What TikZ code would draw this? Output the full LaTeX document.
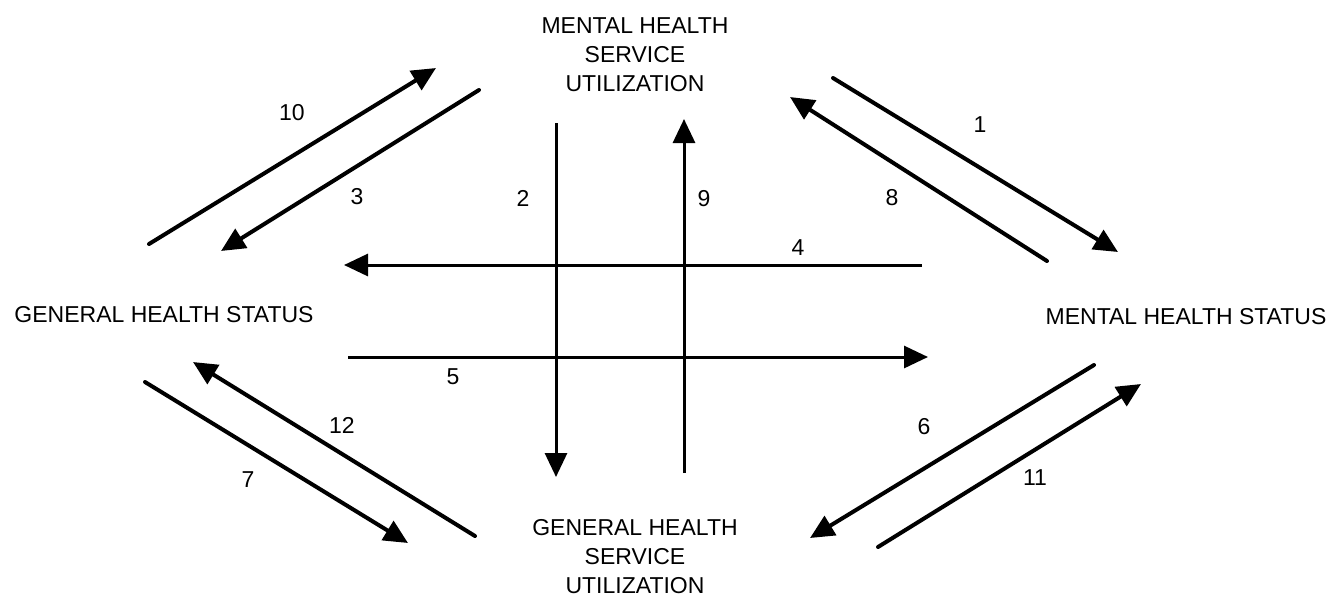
\documentclass[tikz,border=0pt]{standalone}
\usepackage{fontspec}
\setmainfont{Liberation Sans}
\usetikzlibrary{arrows.meta}

\begin{document}
\begin{tikzpicture}
	[x=0.5pt,y=-0.5pt,
	every node/.style={inner sep=0pt,font=\fontsize{11.5}{14.5}\selectfont},
	box/.style={align=center},
	num/.style={},
	link/.style={-{Triangle[length=12pt,width=11pt]},line width=2pt,line cap=round},
	axis/.style={-{Triangle[length=12pt,width=11pt]},line width=1.5pt}]
	\useasboundingbox (0,0) rectangle (1334,596);
	
	% the four boxes
	\node[box] (mhsu) at (635,55) {MENTAL HEALTH\\SERVICE\\UTILIZATION};
	\node[box] (ghsu) at (635,557) {GENERAL HEALTH\\SERVICE\\UTILIZATION};
	\node (ghs) at (164,315) {GENERAL HEALTH STATUS};
	\node (mhs) at (1186,317) {MENTAL HEALTH STATUS};
	
	% ends of the arrows
	\coordinate (a1) at (833,78);   \coordinate (b1) at (1118,252);
	\coordinate (a2) at (556,123);  \coordinate (b2) at (556,477);
	\coordinate (a3) at (479,90);   \coordinate (b3) at (221,251);
	\coordinate (a4) at (922,265);  \coordinate (b4) at (344,265);
	\coordinate (a5) at (348,357);  \coordinate (b5) at (928,357);
	\coordinate (a6) at (1094,365); \coordinate (b6) at (810,538);
	\coordinate (a7) at (145,382);  \coordinate (b7) at (408,543);
	\coordinate (a8) at (1047,261); \coordinate (b8) at (790,97);
	\coordinate (a9) at (684,473);  \coordinate (b9) at (684,119);
	\coordinate (a10) at (149,244); \coordinate (b10) at (436,68);
	\coordinate (a11) at (878,547); \coordinate (b11) at (1141,384);
	\coordinate (a12) at (475,536); \coordinate (b12) at (193,362);
	
	\path
	\foreach \startNode/\endNode in {a1/b1,a3/b3,a6/b6,a7/b7,a8/b8,a10/b10,a11/b11,a12/b12}
	{
		(\startNode) edge[link] (\endNode)
	};
	\path
	\foreach \startNode/\endNode in {a2/b2,a4/b4,a5/b5,a9/b9}
	{
		(\startNode) edge[axis] (\endNode)
	};
	
	% numbers
	\foreach \n/\x/\y in {1/980/125,2/523/198,3/357/197,4/798/248,5/453/377,6/924/427,
		7/248/480,8/892/198,9/704/199,10/292/113,11/1035/478,12/342/425}
	\node[num] (n\n) at (\x,\y) {\n};
\end{tikzpicture}
\end{document}
